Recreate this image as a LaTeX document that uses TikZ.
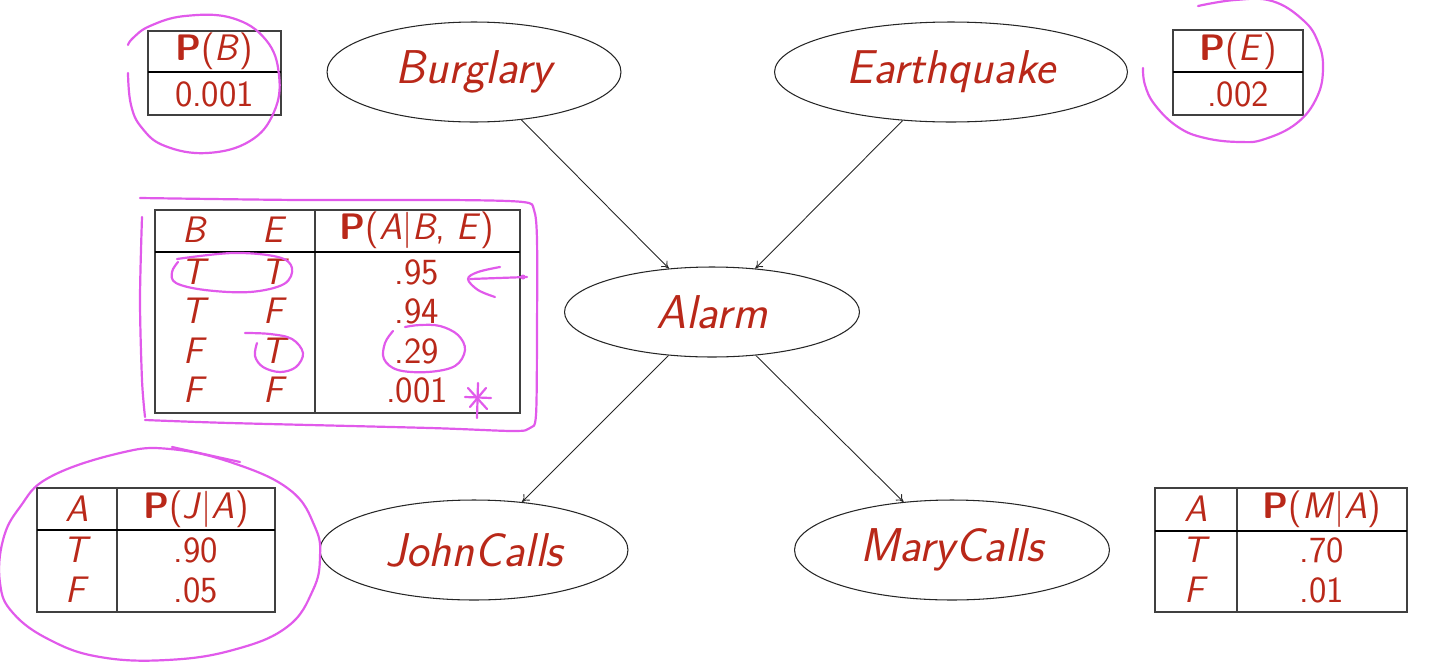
\documentclass[tikz,border=0pt]{standalone}
\usetikzlibrary{shapes.geometric,arrows.meta}
\definecolor{tx}{RGB}{185,40,25}
\definecolor{pk}{RGB}{225,90,235}
\begin{document}
\begin{tikzpicture}[x=0.02cm,y=-0.02cm,
  bn/.style={ellipse,draw=black!85,line width=0.6pt,inner sep=0pt,text=tx,
    font=\sffamily\itshape\fontsize{27}{31}\selectfont},
  tt/.style={text=tx,font=\sffamily\fontsize{21}{25}\selectfont,inner sep=0pt,anchor=center},
  tab/.style={draw=black!75,line width=0.6pt},
  thk/.style={draw=black,line width=1.4pt},
  pen/.style={draw=pk,line width=1.25pt,line cap=round,line join=round},
  edge/.style={-{To[length=4pt,width=5pt]},line width=0.5pt,draw=black!85}]
\useasboundingbox (0,0) rectangle (1434,670);

% network nodes
\node[bn,minimum width=5.88cm,minimum height=2cm] (burg) at (474,72) {Burglary};
\node[bn,minimum width=7.06cm,minimum height=2cm] (earth) at (951,72) {Earthquake};
\node[bn,minimum width=5.9cm,minimum height=1.8cm] (alarm) at (712,312) {Alarm};
\node[bn,minimum width=6.16cm,minimum height=2cm] (john) at (474,550) {JohnCalls};
\node[bn,minimum width=6.3cm,minimum height=2cm] (mary) at (952,550) {MaryCalls};

\draw[edge] (burg) -- (alarm);
\draw[edge] (earth) -- (alarm);
\draw[edge] (alarm) -- (john);
\draw[edge] (alarm) -- (mary);

% P(B)
\draw[tab] (148,31) rectangle (281,115);
\draw[thk] (148,72) -- (281,72);
\node[tt] (pbh) at (214.5,51) {\textbf{P}(\textit{B})};
\node[tt] (pbv) at (214.5,94) {0.001};

% P(E)
\draw[tab] (1173,30) rectangle (1303,115);
\draw[thk] (1173,72) -- (1303,72);
\node[tt] (peh) at (1238,51) {\textbf{P}(\textit{E})};
\node[tt] (pev) at (1238,94) {.002};

% P(A|B,E)
\draw[tab] (155,210) rectangle (520,413);
\draw[tab] (315,210) -- (315,413);
\draw[thk] (155,252) -- (520,252);
\node[tt] (ahb) at (195,230) {\textit{B}};
\node[tt] (ahe) at (275,230) {\textit{E}};
\node[tt] (ahp) at (417,230) {\textbf{P}(\textit{A}$|$\textit{B}, \textit{E})};
\node[tt] (a1b) at (195,272) {\textit{T}};
\node[tt] (a1e) at (275,272) {\textit{T}};
\node[tt] (a1p) at (417,272) {.95};
\node[tt] (a2b) at (195,311) {\textit{T}};
\node[tt] (a2e) at (275,311) {\textit{F}};
\node[tt] (a2p) at (417,311) {.94};
\node[tt] (a3b) at (195,351) {\textit{F}};
\node[tt] (a3e) at (275,351) {\textit{T}};
\node[tt] (a3p) at (417,351) {.29};
\node[tt] (a4b) at (195,390) {\textit{F}};
\node[tt] (a4e) at (275,390) {\textit{F}};
\node[tt] (a4p) at (417,390) {.001};

% P(J|A)
\draw[tab] (37,488) rectangle (275,612);
\draw[tab] (117,488) -- (117,612);
\draw[thk] (37,530) -- (275,530);
\node[tt] (jha) at (77,509) {\textit{A}};
\node[tt] (jhp) at (196,509) {\textbf{P}(\textit{J}$|$\textit{A})};
\node[tt] (j1a) at (77,550) {\textit{T}};
\node[tt] (j1p) at (196,550) {.90};
\node[tt] (j2a) at (77,590) {\textit{F}};
\node[tt] (j2p) at (196,590) {.05};

% P(M|A)
\draw[tab] (1155,488) rectangle (1407,612);
\draw[tab] (1237,488) -- (1237,612);
\draw[thk] (1155,531) -- (1407,531);
\node[tt] (mha) at (1196,509) {\textit{A}};
\node[tt] (mhp) at (1322,509) {\textbf{P}(\textit{M}$|$\textit{A})};
\node[tt] (m1a) at (1196,550) {\textit{T}};
\node[tt] (m1p) at (1322,550) {.70};
\node[tt] (m2a) at (1196,590) {\textit{F}};
\node[tt] (m2p) at (1322,590) {.01};

% hand-drawn annotations
\draw[pen] plot[smooth,tension=0.7] coordinates {(128,73) (131,105) (142,128) (165,146) (207,153) (250,141) (274,112) (279,75) (266,40) (232,18) (185,16) (150,26) (133,38) (128,45)};
\draw[pen] plot[smooth,tension=0.7] coordinates {(1198,6) (1235,0) (1272,1) (1303,20) (1318,42) (1323,68) (1317,97) (1297,123) (1265,139) (1240,142) (1205,138) (1178,127) (1155,105) (1145,85) (1143,68)};
\draw[pen] plot[smooth,tension=0.5] coordinates {(140,198) (300,200) (450,200) (523,202) (534,210) (537,240) (537,330) (536,415) (530,428) (513,431) (430,428) (230,423) (145,420)};
\draw[pen] plot[smooth,tension=0.5] coordinates {(142,217) (140,300) (142,380) (145,417)};
\draw[pen] plot[smooth,tension=0.6] coordinates {(177,259) (233,253) (278,257) (292,268) (284,284) (250,292) (205,290) (176,283) (172,272) (178,262)};
\draw[pen] plot[smooth,tension=0.6] coordinates {(245,333) (270,334) (292,339) (303,353) (296,367) (280,372) (263,367) (255,356) (257,343)};
\draw[pen] plot[smooth,tension=0.6] coordinates {(393,331) (385,343) (384,359) (398,370) (428,372) (455,366) (465,350) (458,335) (440,326) (420,325) (405,327)};
\draw[pen] (470,279) -- (527,277);
\draw[pen] plot[smooth,tension=0.6] coordinates {(500,267) (478,272) (468,279) (478,290) (495,297)};
\fill[pk] (523,277) circle (2.5);
\draw[pen] (478,383) -- (477,418);
\draw[pen] (465,397) -- (491,398);
\draw[pen] (468,388) -- (487,409);
\draw[pen] (486,388) -- (470,407);
\draw[pen] plot[smooth cycle,tension=0.7] coordinates {(120,453) (170,449) (233,463) (290,490) (315,527) (320,557) (313,590) (287,627) (233,650) (167,660) (100,657) (50,640) (13,613) (0,583) (3,540) (20,507) (50,477)};
\draw[pen] (172,447) -- (240,462);
\end{tikzpicture}
\end{document}
